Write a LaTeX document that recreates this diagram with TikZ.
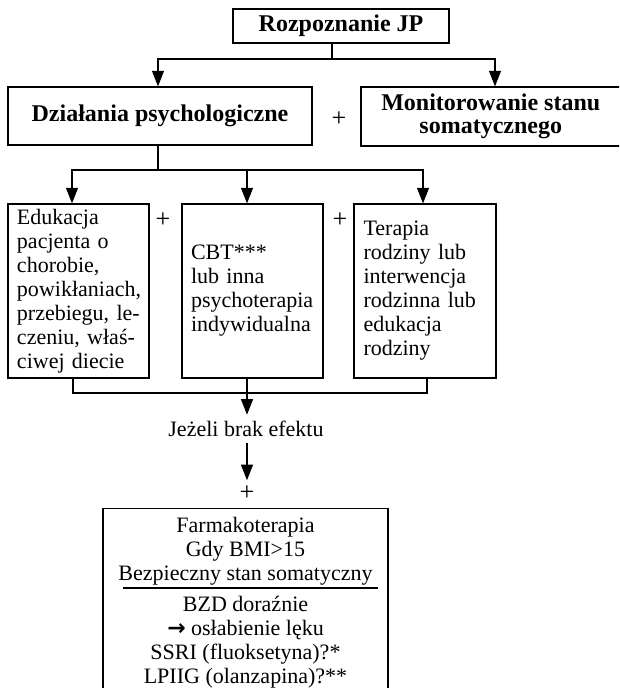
\documentclass[tikz,border=0pt]{standalone}
\usepackage{fontspec}
\setmainfont{Liberation Serif}
\newfontfamily\arrowfont{DejaVu Sans}
\usetikzlibrary{arrows.meta}
\begin{document}
\begin{tikzpicture}[x=0.5pt,y=-0.5pt,
  box/.style={draw, line width=0.6pt, inner sep=0pt},
  hbox/.style={box, font=\fontsize{12pt}{11.5pt}\selectfont\bfseries},
  tbox/.style={box, font=\fontsize{11pt}{12pt}\selectfont, align=left,
    inner xsep=4.5pt, text width=61.5pt, minimum width=70.5pt, minimum height=87pt},
  lbl/.style={font=\fontsize{11pt}{12pt}\selectfont, inner sep=3pt},
  plus/.style={font=\fontsize{13pt}{13pt}\selectfont, inner sep=2.5pt},
  conn/.style={line width=0.55pt},
  arr/.style={conn, -{Triangle[width=6pt,length=7.8pt]}}]
\useasboundingbox (0,0) rectangle (619,688);
\clip (0,0) rectangle (619,688);

% top level
\node[hbox, minimum width=108pt, minimum height=17pt] (rozp) at (341,26) {Rozpoznanie JP};
\node[hbox, minimum width=152pt, minimum height=29pt] (dzial) at (160,116) {Działania psychologiczne};
\node[hbox, minimum width=129.75pt, minimum height=29.5pt, align=center] (monit) at (490.75,116.5) {Monitorowanie stanu\\somatycznego};
\node[plus] (p1) at (339,119) {+};

\coordinate (j0) at (332,59);
\coordinate (jl) at (158,59);
\coordinate (jr) at (495,59);
\draw[arr] (rozp.south -| j0) |- (jl) -- (dzial.north -| jl);
\draw[arr] (j0) -| (monit.north -| jr);

% second level
\node[tbox] (edu) at (78.5,291) {Edukacja\\pacjenta o\\chorobie,\\powikłaniach,\\przebiegu, le-\\czeniu, właś-\\ciwej diecie};
\node[tbox] (cbt) at (252.5,291) {CBT***\\lub inna\\psychoterapia\\indywidualna};
\node[tbox, minimum width=71pt] (ter) at (425,291) {Terapia\\rodziny lub\\interwencja\\rodzinna lub\\edukacja\\rodziny};
\node[plus] (p2) at (163,220) {+};
\node[plus] (p3) at (340,220) {+};

\coordinate (k0) at (158,170);
\coordinate (k1) at (72,170);
\coordinate (k2) at (247,170);
\coordinate (k3) at (423,170);
\draw[arr] (dzial.south -| k0) |- (k1) -- (edu.north -| k1);
\draw[arr] (k0) -| (ter.north -| k3);
\draw[arr] (k2) -- (cbt.north -| k2);

% bottom
\coordinate (m1) at (73,393);
\coordinate (m2) at (247,393);
\coordinate (m3) at (427,393);
\node[lbl] (jez) at (246,429) {Jeżeli brak efektu};
\node[plus] (p4) at (247,493) {+};
\draw[conn] (edu.south -| m1) |- (m3) -- (ter.south -| m3);
\draw[arr] (cbt.south -| m2) -- (jez.north -| m2);
\draw[arr] (jez.south -| m2) -- (p4.north -| m2);

\node[box, anchor=north, font=\fontsize{11pt}{11.85pt}\selectfont, align=center,
  minimum width=142.5pt, inner ysep=4.5pt] (farm) at (245.5,508)
  {Farmakoterapia\\Gdy BMI>15\\Bezpieczny stan somatyczny\\[4pt]BZD doraźnie\\{\arrowfont\bfseries\fontsize{11pt}{11.85pt}\selectfont →} osłabienie lęku\\SSRI (fluoksetyna)?*\\LPIIG (olanzapina)?**\\ \mbox{}\\ \mbox{}};
\draw[conn] ([shift={(-122.5,80)}]farm.north) -- ([shift={(132.5,80)}]farm.north);
\end{tikzpicture}
\end{document}
